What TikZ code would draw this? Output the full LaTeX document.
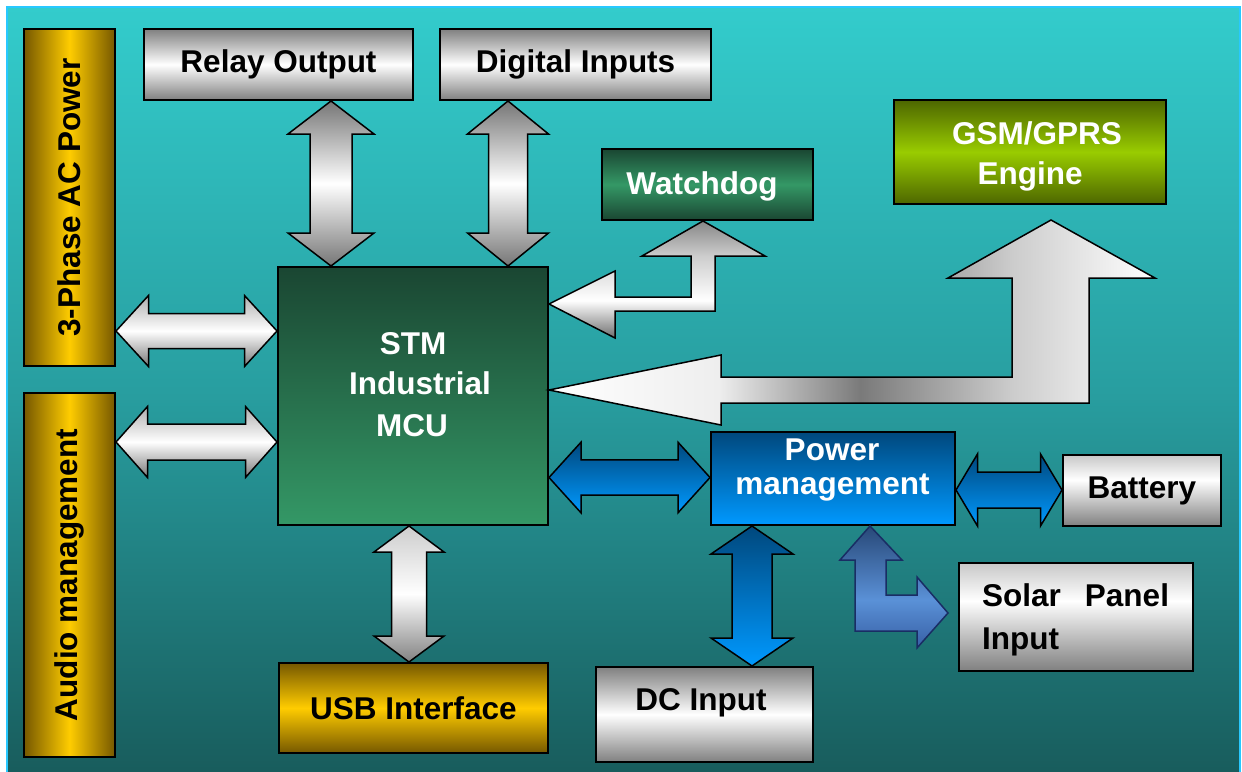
\documentclass[tikz,border=0pt]{standalone}
\usepackage{fontspec}
\setmainfont{Liberation Sans}
\usetikzlibrary{calc}
\definecolor{bgTop}{RGB}{51,204,204}
\definecolor{bgMid}{RGB}{40,158,160}
\definecolor{bgBot}{RGB}{24,92,92}
\definecolor{bgEdge}{RGB}{40,200,255}
\definecolor{goldDark}{RGB}{118,88,0}
\definecolor{goldLight}{RGB}{255,204,0}
\definecolor{grayEdge}{RGB}{128,128,128}
\definecolor{grayLight}{RGB}{200,200,200}
\definecolor{grnDark}{RGB}{26,70,50}
\definecolor{grnLight}{RGB}{52,152,102}
\definecolor{oliveDark}{RGB}{77,102,0}
\definecolor{oliveLight}{RGB}{153,204,0}
\definecolor{blueDark}{RGB}{0,72,125}
\definecolor{blueLight}{RGB}{0,153,255}
\definecolor{solTop}{RGB}{40,72,120}
\definecolor{solMid}{RGB}{90,145,215}
\definecolor{solBot}{RGB}{55,95,165}
\definecolor{solEdge}{RGB}{25,45,100}
\definecolor{gA}{RGB}{238,238,238}
\definecolor{gB}{RGB}{122,122,122}
\definecolor{gC}{RGB}{170,170,170}
\definecolor{gD}{RGB}{204,204,204}
\definecolor{gE}{RGB}{232,232,232}
\definecolor{wdTop}{RGB}{135,135,135}
\definecolor{wdUp}{RGB}{205,205,205}
\definecolor{wdBot}{RGB}{110,110,110}
\definecolor{ghTop}{RGB}{175,175,175}
\definecolor{ghBot}{RGB}{120,120,120}
\definecolor{gvEnd}{RGB}{118,118,118}
\definecolor{usbTop}{RGB}{205,205,205}
\definecolor{usbBot}{RGB}{130,130,130}

\pgfdeclarehorizontalshading{gsmshade}{100bp}{color(0bp)=(white); color(25bp)=(white); color(39bp)=(gA); color(50.7bp)=(gB); color(58.1bp)=(gC); color(63.2bp)=(gD); color(69.6bp)=(gE); color(75bp)=(white); color(100bp)=(white)}
\pgfdeclareverticalshading{wdshade}{100bp}{color(0bp)=(wdBot); color(25bp)=(wdBot); color(41bp)=(white); color(60bp)=(wdUp); color(75bp)=(wdTop); color(100bp)=(wdTop)}
\pgfdeclareverticalshading{solshade}{100bp}{color(0bp)=(solBot); color(25bp)=(solBot); color(44.7bp)=(solMid); color(75bp)=(solTop); color(100bp)=(solTop)}
\pgfdeclareverticalshading{grayB}{100bp}{color(0bp)=(grayEdge); color(25bp)=(grayEdge); color(57.5bp)=(white); color(75bp)=(grayLight); color(100bp)=(grayLight)}

\newcommand\lblfont{\bfseries\fontsize{31.5pt}{41pt}\selectfont}

% horizontal double block arrow: #1 left tip, #2 right tip, #3 head half height, #4 shaft half height, #5 head length, #6 style
\newcommand\HDarrow[6]{%
  \path[#6] (#1) -- ($(#1)+(#5,-#3)$) -- ($(#1)+(#5,-#4)$) -- ($(#2)+(-#5,-#4)$) -- ($(#2)+(-#5,-#3)$) -- (#2) -- ($(#2)+(-#5,#3)$) -- ($(#2)+(-#5,#4)$) -- ($(#1)+(#5,#4)$) -- ($(#1)+(#5,#3)$) -- cycle;}
% vertical double block arrow: #1 top tip, #2 bottom tip
\newcommand\VDarrow[6]{%
  \path[#6] (#1) -- ($(#1)+(#3,#5)$) -- ($(#1)+(#4,#5)$) -- ($(#2)+(#4,-#5)$) -- ($(#2)+(#3,-#5)$) -- (#2) -- ($(#2)+(-#3,-#5)$) -- ($(#2)+(-#4,-#5)$) -- ($(#1)+(-#4,#5)$) -- ($(#1)+(-#3,#5)$) -- cycle;}

\tikzset{
  box/.style={draw=black, line width=2pt, inner sep=0pt, font=\lblfont},
  graybox/.style={box, top color=grayEdge, bottom color=grayEdge, middle color=white},
  grayboxb/.style={box, shade, shading=grayB},
  goldh/.style={box, left color=goldDark, right color=goldDark, middle color=goldLight},
  goldv/.style={box, top color=goldDark, bottom color=goldDark, middle color=goldLight},
  txt/.style={font=\lblfont, inner sep=0pt, anchor=base},
  arr/.style={draw=black, line width=1.5pt},
  garrH/.style={arr, top color=ghTop, bottom color=ghBot, middle color=white},
  garrV/.style={arr, top color=gvEnd, bottom color=gvEnd, middle color=white},
  garrU/.style={arr, top color=usbTop, bottom color=usbBot, middle color=white},
  barr/.style={arr, top color=blueDark, bottom color=blueLight},
}

\begin{document}
\begin{tikzpicture}[x=1pt,y=-1pt]
\useasboundingbox (0,0) rectangle (1242,771);
\shade[top color=bgTop, bottom color=bgBot, middle color=bgMid, draw=bgEdge, line width=2pt] (7,7) rectangle (1240,775);

% boxes
\node[graybox, minimum width=269, minimum height=71] (relay) at (278.5,64.5) {Relay Output};
\node[graybox, minimum width=271, minimum height=71] (digital) at (575.5,64.5) {Digital Inputs};
\node[goldh, minimum width=91, minimum height=337] (phase) at (69.5,197.5) {};
\node[txt, anchor=center, rotate=90] (phaseT) at (phase.center) {3-Phase AC Power};
\node[goldh, minimum width=91, minimum height=364] (audio) at (69.5,575) {};
\node[txt, anchor=center, rotate=90] (audioT) at (audio.center) {Audio management};
\node[box, top color=grnDark, bottom color=grnDark, middle color=grnLight, minimum width=211, minimum height=71] (wd) at (707.5,184.5) {};
\node[txt, text=white] (wdT) at (702,194.5) {Watchdog};
\node[box, top color=oliveDark, bottom color=oliveDark, middle color=oliveLight, minimum width=272, minimum height=104] (gsm) at (1030,152) {};
\node[txt, text=white] (gsmA) at (1037,144.3) {GSM/GPRS};
\node[txt, text=white] (gsmB) at (1030,184.5) {Engine};
\node[box, top color=grnDark, bottom color=grnLight, minimum width=270, minimum height=258] (mcu) at (413,396) {};
\node[txt, text=white] (mcuA) at (413,354.3) {STM};
\node[txt, text=white] (mcuB) at (420,394.3) {Industrial};
\node[txt, text=white] (mcuC) at (412,436.3) {MCU};
\node[goldv, minimum width=269, minimum height=90] (usb) at (413.5,708) {USB Interface};
\node[box, top color=blueDark, bottom color=blueLight, minimum width=244, minimum height=93] (pm) at (833,478.5) {};
\node[txt, text=white] (pmA) at (832,460.3) {Power};
\node[txt, text=white] (pmB) at (832.5,494.5) {management};
\node[grayboxb, minimum width=158, minimum height=71] (battery) at (1142,490.5) {Battery};
\node[graybox, minimum width=217, minimum height=95] (dc) at (704.5,714.5) {};
\node[txt] (dcT) at (701,710.7) {DC Input};
\node[grayboxb, minimum width=234, minimum height=108] (solar) at (1076,617) {};
\node[txt, anchor=base west] (solA) at (982,606.7) {Solar\hspace{24pt}Panel};
\node[txt, anchor=base west] (solB) at (982,649.3) {Input};

% connector end points
\coordinate (pa1) at (phase.east |- 0,331);
\coordinate (pa2) at (mcu.west |- 0,331);
\coordinate (aa1) at (audio.east |- 0,442);
\coordinate (aa2) at (mcu.west |- 0,442);
\coordinate (ra1) at (331,0 |- relay.south);
\coordinate (ra2) at (331,0 |- mcu.north);
\coordinate (da1) at (508,0 |- digital.south);
\coordinate (da2) at (508,0 |- mcu.north);
\coordinate (ua1) at (409,0 |- mcu.south);
\coordinate (ua2) at (409,0 |- usb.north);
\coordinate (pm1) at (mcu.east |- 0,477.5);
\coordinate (pm2) at (pm.west |- 0,477.5);
\coordinate (ba1) at (pm.east |- 0,490);
\coordinate (ba2) at (battery.west |- 0,490);
\coordinate (dc1) at (752,0 |- pm.south);
\coordinate (dc2) at (752,0 |- dc.north);
\coordinate (w1) at (mcu.east |- 0,304);
\coordinate (w2) at (703,0 |- wd.south);
\coordinate (g1) at (mcu.east |- 0,390);
\coordinate (g2) at (1051,220);
\coordinate (s1) at (870,0 |- pm.south);
\coordinate (s2) at (948,613);

% block arrows
\HDarrow{pa1}{pa2}{35.5}{17.5}{32.5}{garrH}
\HDarrow{aa1}{aa2}{35.5}{18}{31.5}{garrH}
\VDarrow{ra1}{ra2}{43}{21}{33}{garrV}
\VDarrow{da1}{da2}{40.5}{19.5}{33}{garrV}
\VDarrow{ua1}{ua2}{35}{17.5}{26}{garrU}
\HDarrow{pm1}{pm2}{35.3}{17.6}{32}{barr}
\HDarrow{ba1}{ba2}{36}{18}{21.5}{barr}
\VDarrow{dc1}{dc2}{41}{20}{28}{barr}

\path[arr, shade, shading=wdshade] (w1) -- (615,271) -- (615,297) -- (691,297) -- (691,256) -- (642,256) -- (w2) -- (765,256) -- (715,256) -- (715,311) -- (615,311) -- (615,338) -- cycle;
\path[arr, shade, shading=gsmshade] (g1) -- (721,355) -- (721,377) -- (1012,377) -- (1012,278) -- (948,278) -- (g2) -- (1155,278) -- (1089,278) -- (1089,403) -- (721,403) -- (721,425) -- cycle;
\path[draw=solEdge, line width=1.5pt, shade, shading=solshade] (s1) -- (902,560) -- (886,560) -- (886,595) -- (917,595) -- (917,577) -- (s2) -- (917,648) -- (917,631) -- (855,631) -- (855,560) -- (840,560) -- cycle;
\end{tikzpicture}
\end{document}
